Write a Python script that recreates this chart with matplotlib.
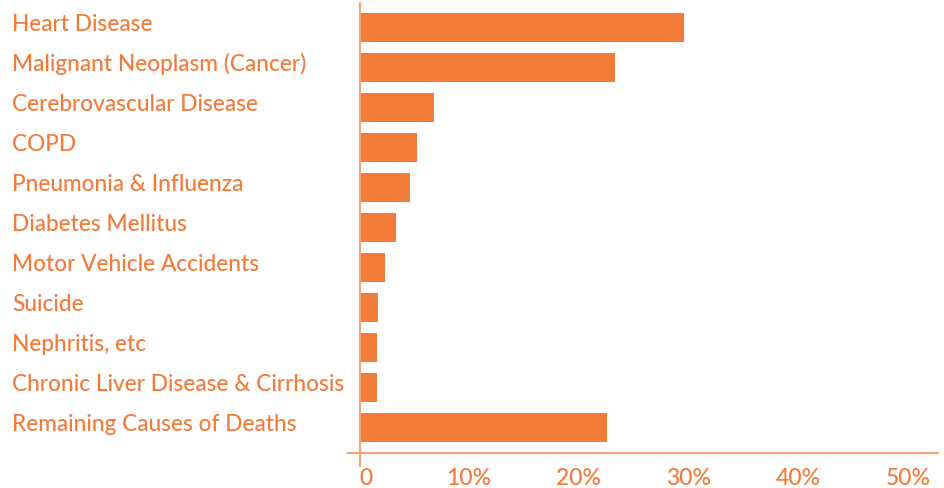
import matplotlib.pyplot as plt
import matplotlib.transforms as mtransforms

causes = [
    "Heart Disease",
    "Malignant Neoplasm (Cancer)",
    "Cerebrovascular Disease",
    "COPD",
    "Pneumonia & Influenza",
    "Diabetes Mellitus",
    "Motor Vehicle Accidents",
    "Suicide",
    "Nephritis, etc",
    "Chronic Liver Disease & Cirrhosis",
    "Remaining Causes of Deaths",
]
share = [29.4, 23.2, 6.7, 5.2, 4.5, 3.3, 2.3, 1.6, 1.5, 1.5, 22.4]
tick_vals = [0, 10, 20, 30, 40, 50]
tick_labels = ["0", "10%", "20%", "30%", "40%", "50%"]

bar_col = "#F37B38"
text_col = "#F47A38"
line_col = "#F8A376"

plt.rcParams['font.family'] = ['Lato', 'DejaVu Sans']

W, H = 945, 489
fig = plt.figure(figsize=(W / 100, H / 100), dpi=100)
ax = fig.add_axes([348 / W, (H - 454) / H, (938 - 348) / W, 450 / H])

ypos = list(range(len(causes)))
ax.barh(ypos, share, height=0.725, color=bar_col, zorder=2)

ax.set_xlim(-1.1, 52.5)
ax.set_ylim(10.64, -0.6125)
for s in ax.spines.values():
    s.set_visible(False)
ax.set_xticks([])
ax.set_yticks([])

# axis lines
ax.plot([0, 1], [0, 0], transform=ax.transAxes, color=line_col, lw=1.5,
        clip_on=False, zorder=3)
ax.plot([0, 0], [-0.6125, 10.96], color=line_col, lw=1.5, clip_on=False, zorder=3)

# category labels on the left
trans = mtransforms.blended_transform_factory(fig.transFigure, ax.transData)
for y, name in zip(ypos, causes):
    ax.text(12 / W, y + 0.06, name, transform=trans, ha="left", va="baseline",
            fontsize=16.3, color=text_col, fontweight="medium")

# x tick labels
ttrans = mtransforms.blended_transform_factory(ax.transData, fig.transFigure)
for v, lab in zip(tick_vals, tick_labels):
    xo = 0.55 if v == 0 else -0.15
    ax.text(v + xo, (H - 485) / H, lab, transform=ttrans, ha="center",
            va="baseline", fontsize=16.5, color=text_col, fontweight="medium")

fig.savefig("out.png", dpi=100)
